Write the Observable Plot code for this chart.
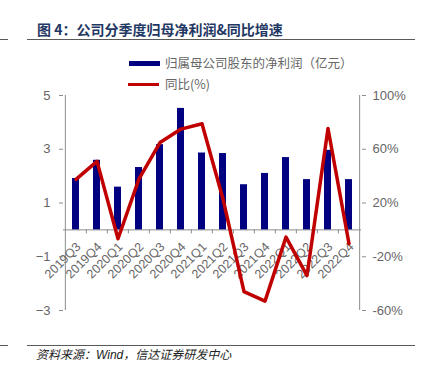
<!DOCTYPE html>
<html><head><meta charset="utf-8">
<script src="https://cdn.jsdelivr.net/npm/d3@7"></script>
<script src="https://cdn.jsdelivr.net/npm/@observablehq/plot@0.6"></script>
<style>
html,body{margin:0;padding:0;background:#fff}
body{width:425px;height:385px;position:relative;overflow:hidden;font-family:"Liberation Sans",Arial,sans-serif}
#chart{position:absolute;left:0;top:0}
#chart svg{display:block}
.title{position:absolute;left:37px;top:22px;font:bold 14px/14px "Noto Sans CJK SC",sans-serif;color:#1f3864;white-space:nowrap}
.hr{position:absolute;height:1px;background:#595959}
.leg{position:absolute;font:12.5px/14px "Noto Sans CJK SC",sans-serif;color:#666;white-space:nowrap}
.sw{position:absolute}
.cap{position:absolute;left:36px;top:347px;font:italic 12px/14px "Noto Sans CJK SC",sans-serif;color:#222;white-space:nowrap}
.cap span{font-family:"Liberation Sans",Arial,sans-serif}
</style></head>
<body>
<div class="title">图 4：公司分季度归母净利润&amp;同比增速</div>
<div class="hr" style="left:0;width:8px;top:39px"></div>
<div class="hr" style="left:27px;width:388px;top:39px"></div>
<div id="chart"></div>
<div class="sw" style="left:129px;top:61px;width:31px;height:5px;background:#000080"></div>
<div class="leg" style="left:165px;top:56px">归属母公司股东的净利润（亿元）</div>
<div class="sw" style="left:128px;top:83px;width:31px;height:3px;background:#c00000"></div>
<div class="leg" style="left:165px;top:77px">同比(%)</div>
<div class="hr" style="left:0;width:8px;top:345px"></div>
<div class="hr" style="left:27px;width:388px;top:345px"></div>
<div class="cap">资料来源：<span>Wind</span>，信达证券研发中心</div>
<script>
const cats = ["2019Q3","2019Q4","2020Q1","2020Q2","2020Q3","2020Q4","2021Q1","2021Q2","2021Q3","2021Q4","2022Q1","2022Q2","2022Q3","2022Q4"];
const profit = [1.91, 2.59, 1.59, 2.32, 3.17, 4.52, 2.86, 2.84, 1.68, 2.10, 2.69, 1.87, 2.96, 1.87];
const yoy = [37.6, 51, -6.6, 38, 65, 75, 79, 23, -46, -53, -5.4, -34, 75.4, -10.3];
const leftTicks = [-3, -1, 1, 3, 5];
const rightTicks = [-60, -20, 20, 60, 100];

const data = cats.map((c, i) => ({cat: c, profit: profit[i], yoy: yoy[i]}));
const W = 425, H = 385, mL = 63, mR = 64, mT = 95, mB = 75;
const step = (W - mL - mR) / cats.length;
const toLeft = p => p / 20; // right axis (%) mapped onto left axis units
const axisCol = "#8c8c8c";

const chart = Plot.plot({
  width: W, height: H, marginLeft: mL, marginRight: mR, marginTop: mT, marginBottom: mB,
  style: {fontFamily: "'Liberation Sans', Arial, sans-serif", fontSize: "13px", background: "transparent", overflow: "visible"},
  x: {domain: cats, paddingInner: 0.685, paddingOuter: 0.3425, axis: null},
  y: {domain: [-3, 5], axis: null},
  marks: [
    Plot.ruleY([0], {stroke: axisCol, strokeWidth: 1}),
    Plot.barY(data, {x: "cat", y: "profit", fill: "#000080"}),
    Plot.ruleX(cats.slice(1), {x: d => d, y1: 0, y2: -0.15, dx: -step / 2, stroke: axisCol}),
    Plot.ruleX([cats[0]], {x: d => d, y1: -3, y2: 5, dx: -step / 2, stroke: axisCol}),
    Plot.ruleX([cats[cats.length - 1]], {x: d => d, y1: -3, y2: 5, dx: step / 2, stroke: axisCol}),
    Plot.axisY({anchor: "left", label: null, ticks: leftTicks, tickSize: 4, tickPadding: 9, color: "#666", stroke: axisCol, fontSize: 13}),
    Plot.axisY({anchor: "right", label: null, ticks: rightTicks.map(toLeft), tickFormat: d => `${Math.round(d * 20)}%`, tickSize: 4, tickPadding: 7, color: "#666", stroke: axisCol, fontSize: 13}),
    Plot.text(cats, {x: d => d, y: 0, text: d => d, rotate: -45, textAnchor: "end", dx: 2.5, dy: 15, fill: "#666", fontSize: 12.5}),
    Plot.lineY(data, {x: "cat", y: d => toLeft(d.yoy), stroke: "#c00000", strokeWidth: 3.5, strokeLinejoin: "round"})
  ]
});
document.getElementById("chart").appendChild(chart);
</script>
</body></html>
